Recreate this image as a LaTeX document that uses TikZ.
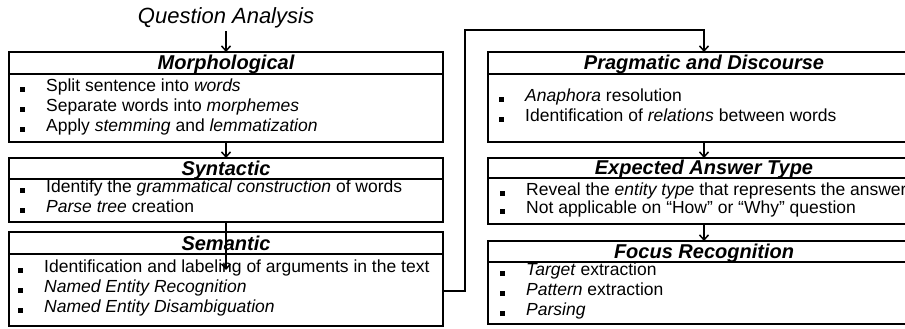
\documentclass[tikz,border=0pt]{standalone}
\usepackage{fontspec}
\setmainfont{Liberation Sans}
\usetikzlibrary{arrows.meta}
\tikzset{
  box/.style={draw, line width=1.8pt, rectangle, inner sep=0pt, outer sep=0pt, anchor=north west},
  hdr/.style={font=\fontsize{20}{22}\selectfont\bfseries\itshape, inner sep=0pt, anchor=base},
  itm/.style={font=\fontsize{17.5}{20}\selectfont, inner sep=0pt, anchor=mid west},
  bul/.style={fill, rectangle, minimum size=5pt, inner sep=0pt},
  arr/.style={line width=1.5pt, -{Straight Barb[length=5pt,width=9pt,line width=1.5pt]}},
  sepline/.style={line width=1.5pt},
}
\newcommand\qaitem[4]{%
  \node[bul] (#1b) at (#2-24,#3) {};
  \node[itm] (#1) at (#2,#3) {#4};}
\begin{document}
\begin{tikzpicture}[x=1pt,y=-1pt]
\useasboundingbox (0,0) rectangle (905,329);

% title
\node[font=\fontsize{22}{24}\selectfont\itshape, inner sep=0pt] (title) at (226,18) {Question Analysis};

% left column boxes
\node[box, minimum width=434pt, minimum height=90pt] (morph) at (9,52) {};
\draw[sepline] (9,74) -- (443,74);
\node[hdr] (morphh) at (226,70) {Morphological};
\qaitem{m1}{46}{89}{Split sentence into \textit{words}}
\qaitem{m2}{46}{109}{Separate words into \textit{morphemes}}
\qaitem{m3}{46}{129}{Apply \textit{stemming} and \textit{lemmatization}}

\node[box, minimum width=434pt, minimum height=64pt] (syn) at (9,158) {};
\draw[sepline] (9,179) -- (443,179);
\node[hdr] (synh) at (226,175.5) {Syntactic};
\qaitem{s1}{46}{190}{Identify the \textit{grammatical construction} of words}
\qaitem{s2}{46}{210}{\textit{Parse tree} creation}

\node[box, minimum width=434pt, minimum height=94pt] (sem) at (9,232) {};
\draw[sepline] (9,254) -- (443,254);
\node[hdr] (semh) at (226,250) {Semantic};
\qaitem{e1}{44}{270}{Identification and labeling of arguments in the text}
\qaitem{e2}{44}{290}{\textit{Named Entity Recognition}}
\qaitem{e3}{44}{310}{\textit{Named Entity Disambiguation}}

% right column boxes
\node[box, minimum width=432pt, minimum height=90pt] (prag) at (488,52) {};
\draw[sepline] (488,74) -- (920,74);
\node[hdr] (pragh) at (704,70) {Pragmatic and Discourse};
\qaitem{p1}{525}{99}{\textit{Anaphora} resolution}
\qaitem{p2}{525}{119}{Identification of \textit{relations} between words}

\node[box, minimum width=432pt, minimum height=66pt] (exp) at (488,158) {};
\draw[sepline] (488,178) -- (920,178);
\node[hdr] (exph) at (704,174.5) {Expected Answer Type};
\qaitem{x1}{526}{193}{Reveal the \textit{entity type} that represents the answer}
\qaitem{x2}{526}{211}{Not applicable on “How” or “Why” question}

\node[box, minimum width=432pt, minimum height=83pt] (foc) at (488,241) {};
\draw[sepline] (488,262) -- (920,262);
\node[hdr] (foch) at (704,258.5) {Focus Recognition};
\qaitem{f1}{526}{273}{\textit{Target} extraction}
\qaitem{f2}{526}{293}{\textit{Pattern} extraction}
\qaitem{f3}{526}{313}{\textit{Parsing}}

% connectors
\draw[arr] ([yshift=-3pt]title.south) -- (morph.north);
\draw[arr] (morph.south) -- (syn.north);
\coordinate (semin) at (226,270);
\draw[arr] (syn.south) -- (semin);
\coordinate (c1) at (465,291);
\coordinate (c2) at (465,30);
\draw[arr] (sem.east |- c1) -- (c1) -- (c2) -- (prag.north |- c2) -- (prag.north);
\draw[arr] (prag.south) -- (exp.north);
\draw[arr] (exp.south) -- (foc.north);
\end{tikzpicture}
\end{document}
